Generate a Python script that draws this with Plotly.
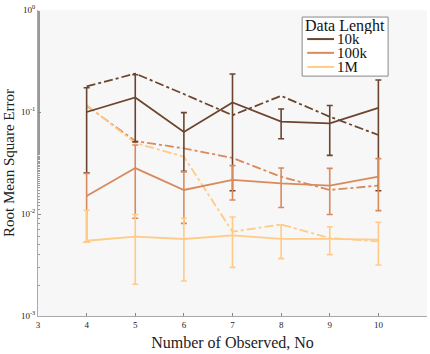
import plotly.graph_objects as go

x_obs = [4, 5, 6, 7, 8, 9, 10]
labels = ["10k", "100k", "1M"]
colors = ["#6b4530", "#d98a5c", "#ffcb86"]

# solid series (mean) with error bar limits
mean_10k = [0.100, 0.139, 0.0637, 0.124, 0.0804, 0.0774, 0.110]
top_10k = [0.173, 0.232, 0.0985, 0.236, 0.107, 0.116, 0.206]
bot_10k = [0.0254, 0.051, 0.0262, 0.0169, 0.0547, 0.0376, 0.0169]

mean_100k = [0.0150, 0.0282, 0.0172, 0.0216, 0.0200, 0.0190, 0.0232]
top_100k = [0.0250, 0.0475, 0.0260, 0.0298, 0.0282, 0.0280, 0.0349]
bot_100k = [0.00528, 0.0091, 0.0081, 0.0137, 0.0116, 0.0099, 0.0108]

mean_1m = [0.00547, 0.0060, 0.00569, 0.00618, 0.0057, 0.0057, 0.0056]
top_1m = [0.0109, 0.0099, 0.0091, 0.00935, 0.0078, 0.0075, 0.0083]
bot_1m = [0.0053, 0.00205, 0.0022, 0.0030, 0.00365, 0.0040, 0.00316]

# dash-dot series
dash_10k = [0.178, 0.238, 0.150, 0.093, 0.144, 0.090, 0.0595]
dash_100k = [0.115, 0.052, 0.044, 0.0355, 0.0232, 0.0172, 0.019]
dash_1m = [0.117, 0.0497, 0.0365, 0.0067, 0.0079, 0.0058, 0.0054]

legend_title = "Data Lenght"

means = [mean_10k, mean_100k, mean_1m]
tops = [top_10k, top_100k, top_1m]
bots = [bot_10k, bot_100k, bot_1m]
dashes = [dash_10k, dash_100k, dash_1m]

fig = go.Figure()
for lab, col, dv in zip(labels, colors, dashes):
    fig.add_trace(go.Scatter(x=x_obs, y=dv, mode="lines", showlegend=False,
                             line=dict(color=col, width=1.8, dash="dashdot")))
for lab, col, m, t, b in zip(labels, colors, means, tops, bots):
    fig.add_trace(go.Scatter(
        x=x_obs, y=m, mode="lines", name=lab, showlegend=False,
        line=dict(color=col, width=1.8),
        error_y=dict(type="data", symmetric=False,
                     array=[ti - mi for ti, mi in zip(t, m)],
                     arrayminus=[mi - bi for mi, bi in zip(m, b)],
                     color=col, thickness=1.6, width=3)))

serif = "Liberation Serif"

# compact custom legend (paper coordinates)
L_x0, L_x1, L_ytop, L_ybot = 0.679, 0.900, 0.977, 0.784
fig.add_shape(type="rect", xref="paper", yref="paper",
              x0=L_x0, x1=L_x1, y0=L_ybot, y1=L_ytop,
              line=dict(color="#888", width=1), fillcolor="white", layer="above")
fig.add_annotation(xref="paper", yref="paper", x=(L_x0 + L_x1) / 2, y=0.948,
                   text=legend_title, showarrow=False, xanchor="center", yanchor="middle",
                   height=16, valign="middle", borderpad=0,
                   font=dict(size=16, family=serif, color="#111"))
row_y = [0.905, 0.860, 0.814]
for lab, col, ry in zip(labels, colors, row_y):
    fig.add_shape(type="line", xref="paper", yref="paper",
                  x0=0.692, x1=0.761, y0=ry, y1=ry,
                  line=dict(color=col, width=2), layer="above")
    fig.add_annotation(xref="paper", yref="paper", x=0.766, y=ry,
                       text=lab, showarrow=False, xanchor="left", yanchor="middle",
                       height=12, valign="middle", borderpad=0,
                       font=dict(size=15, family=serif, color="#111"))

fig.update_layout(
    width=430, height=354,
    margin=dict(l=38, r=3, t=10, b=38),
    paper_bgcolor="white", plot_bgcolor="#f7f7f7",
    font=dict(family=serif, color="#222"),
    showlegend=False,
)
fig.update_xaxes(range=[3, 11], dtick=1, tick0=3, ticks="inside", ticklen=3,
                 tickcolor="#888", showline=True, linecolor="#aaa", linewidth=1,
                 showgrid=False, zeroline=False,
                 tickfont=dict(size=9, family=serif),
                 title=dict(text="Number of Observed, No", font=dict(size=16, family=serif), standoff=8))
fig.update_yaxes(type="log", range=[-3, 0],
                 tickvals=[1e-3, 1e-2, 1e-1, 1],
                 ticktext=["10<sup>-3</sup>", "10<sup>-2</sup>", "10<sup>-1</sup>", "10<sup>0</sup>"],
                 ticks="inside", ticklen=3, tickcolor="#888",
                 minor=dict(ticks="inside", ticklen=2, tickcolor="#999", showgrid=False),
                 showline=True, linecolor="#aaa", linewidth=1,
                 showgrid=False, zeroline=False,
                 tickfont=dict(size=9, family=serif),
                 title=dict(text="Root Mean Square Error", font=dict(size=15, family=serif), standoff=2))

fig.write_html("out.html")
